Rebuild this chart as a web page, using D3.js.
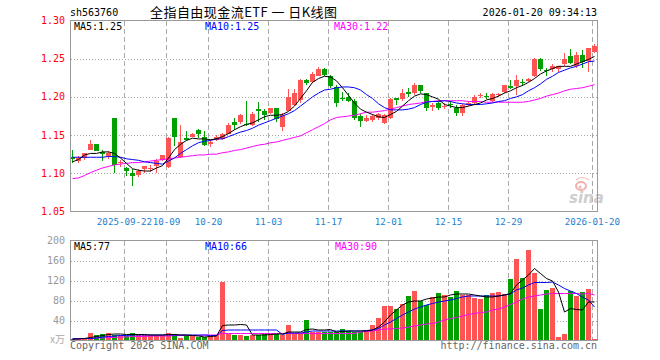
<!DOCTYPE html>
<html>
<head>
<meta charset="utf-8">
<script src="https://d3js.org/d3.v7.min.js"></script>
<style>
body { margin: 0px; background: #fff; }
text { font-family: "DejaVu Sans Mono", "Liberation Mono", monospace; font-size: 10px; }
.grid { stroke: #aaa; stroke-width: 1px; shape-rendering: crispEdges; }
.frame { fill: none; stroke: #999; stroke-width: 1px; shape-rendering: crispEdges; }
.ma { fill: none; stroke-width: 1px; }
</style>
</head>
<body>
<svg id="chart" width="660" height="360"></svg>
<script>
// daily K data, 2025-09-09 .. 2026-01-20 (88 trading days)
var opens = [1.121,1.116,1.120,1.131,1.138,1.128,1.122,1.173,1.114,1.107,
  1.100,1.098,1.105,1.106,1.110,1.117,1.108,1.172,1.121,1.146,
  1.148,1.157,1.147,1.138,1.143,1.145,1.152,1.167,1.167,1.165,
  1.163,1.184,1.181,1.179,1.185,1.161,1.181,1.189,1.196,1.222,
  1.219,1.228,1.237,1.228,1.213,1.199,1.200,1.195,1.175,1.169,
  1.170,1.173,1.166,1.173,1.198,1.197,1.206,1.205,1.215,1.205,
  1.187,1.192,1.187,1.191,1.186,1.179,1.189,1.192,1.201,1.201,
  1.194,1.203,1.206,1.214,1.214,1.219,1.221,1.227,1.250,1.235,
  1.237,1.237,1.243,1.253,1.240,1.255,1.247,1.259];
var highs = [1.131,1.122,1.127,1.143,1.138,1.130,1.129,1.173,1.117,1.108,
  1.105,1.105,1.110,1.111,1.119,1.124,1.148,1.172,1.163,1.155,
  1.153,1.158,1.155,1.143,1.150,1.153,1.166,1.172,1.177,1.195,
  1.180,1.193,1.184,1.186,1.186,1.179,1.210,1.210,1.224,1.224,
  1.232,1.239,1.238,1.229,1.215,1.207,1.205,1.197,1.177,1.176,
  1.178,1.179,1.177,1.198,1.199,1.210,1.211,1.218,1.215,1.205,
  1.192,1.196,1.192,1.194,1.189,1.191,1.194,1.203,1.205,1.205,
  1.205,1.205,1.216,1.222,1.229,1.224,1.225,1.251,1.251,1.238,
  1.243,1.241,1.258,1.263,1.259,1.262,1.264,1.269];
var lows = [1.114,1.113,1.118,1.130,1.129,1.116,1.119,1.101,1.108,1.097,
  1.084,1.095,1.101,1.102,1.100,1.116,1.107,1.136,1.120,1.142,
  1.147,1.146,1.136,1.134,1.142,1.144,1.151,1.157,1.164,1.162,
  1.162,1.167,1.170,1.177,1.167,1.156,1.181,1.188,1.192,1.216,
  1.218,1.227,1.227,1.211,1.187,1.194,1.193,1.170,1.161,1.167,
  1.167,1.170,1.165,1.171,1.190,1.195,1.200,1.203,1.205,1.182,
  1.181,1.183,1.184,1.186,1.175,1.175,1.188,1.191,1.199,1.197,
  1.193,1.200,1.205,1.210,1.203,1.214,1.219,1.226,1.234,1.228,
  1.233,1.233,1.241,1.243,1.238,1.238,1.232,1.258];
var closes = [1.119,1.120,1.126,1.138,1.129,1.125,1.127,1.111,1.115,1.103,
  1.097,1.103,1.109,1.107,1.116,1.124,1.146,1.148,1.141,1.143,
  1.152,1.152,1.137,1.141,1.148,1.151,1.163,1.163,1.176,1.164,
  1.178,1.181,1.176,1.185,1.171,1.176,1.200,1.205,1.222,1.218,
  1.230,1.237,1.229,1.214,1.192,1.198,1.194,1.172,1.168,1.173,
  1.175,1.177,1.176,1.197,1.196,1.205,1.204,1.215,1.208,1.185,
  1.190,1.185,1.188,1.190,1.179,1.190,1.192,1.200,1.202,1.200,
  1.204,1.204,1.215,1.211,1.222,1.218,1.224,1.250,1.237,1.234,
  1.241,1.241,1.249,1.245,1.255,1.246,1.264,1.267];

// price moving averages as drawn
var ma5 = [1.115,1.118,1.124,1.126,1.126,1.128,1.128,1.126,1.120,1.113,
  1.106,1.104,1.103,1.103,1.107,1.110,1.120,1.131,1.138,1.143,
  1.146,1.145,1.145,1.144,1.145,1.148,1.152,1.157,1.161,1.164,
  1.166,1.170,1.174,1.176,1.176,1.177,1.181,1.188,1.198,1.208,
  1.219,1.224,1.227,1.226,1.221,1.212,1.202,1.192,1.184,1.180,
  1.177,1.174,1.173,1.177,1.181,1.188,1.195,1.201,1.204,1.203,
  1.200,1.197,1.190,1.188,1.186,1.186,1.188,1.190,1.192,1.196,
  1.198,1.201,1.205,1.208,1.212,1.215,1.219,1.224,1.230,1.234,
  1.237,1.240,1.240,1.240,1.243,1.246,1.249,1.253];
var ma10 = [1.121,1.121,1.121,1.121,1.121,1.121,1.122,1.122,1.121,1.119,
  1.118,1.117,1.115,1.114,1.113,1.112,1.116,1.120,1.126,1.131,
  1.136,1.140,1.142,1.143,1.145,1.145,1.148,1.151,1.154,1.156,
  1.159,1.163,1.166,1.169,1.172,1.175,1.178,1.182,1.188,1.194,
  1.200,1.205,1.209,1.210,1.212,1.213,1.213,1.212,1.209,1.203,
  1.198,1.191,1.186,1.183,1.183,1.183,1.184,1.186,1.190,1.193,
  1.194,1.194,1.195,1.194,1.192,1.191,1.190,1.190,1.190,1.191,
  1.192,1.194,1.195,1.198,1.200,1.203,1.208,1.212,1.217,1.223,
  1.227,1.232,1.235,1.238,1.240,1.243,1.246,1.247];
var ma30 = [1.093,1.094,1.097,1.101,1.104,1.107,1.109,1.111,1.112,1.113,
  1.114,1.114,1.115,1.116,1.117,1.118,1.119,1.120,1.121,1.122,
  1.123,1.124,1.124,1.125,1.125,1.127,1.128,1.130,1.131,1.133,
  1.135,1.137,1.138,1.140,1.141,1.143,1.145,1.147,1.149,1.153,
  1.157,1.161,1.165,1.170,1.173,1.174,1.175,1.176,1.178,1.180,
  1.180,1.181,1.182,1.184,1.186,1.188,1.190,1.191,1.192,1.194,
  1.194,1.195,1.195,1.195,1.195,1.195,1.194,1.194,1.194,1.193,
  1.193,1.193,1.193,1.193,1.193,1.193,1.194,1.196,1.198,1.201,
  1.203,1.205,1.208,1.210,1.211,1.212,1.214,1.216];

// volume (x万) and its moving averages
var vols = [3,4,4,15,11,13,15,12,11,9,
  15,11,11,11,11,11,15,14,5,9,
  9,7,7,9,11,117,14,11,11,9,
  11,11,14,14,14,11,31,14,14,41,
  17,17,17,17,17,24,19,17,17,19,
  31,45,69,69,63,74,89,99,79,71,
  87,95,91,87,99,91,91,85,83,91,
  95,97,93,123,163,125,181,135,63,101,
  105,7,13,99,89,97,103,3];
var vma5 = [3,3,4,6,8,10,12,13,13,12,
  12,12,12,11,11,11,12,12,11,11,
  10,9,7,8,9,30,31,31,32,31,
  11,11,11,12,13,13,17,17,17,22,
  23,21,21,22,17,18,19,19,19,19,
  21,27,37,51,61,71,77,79,79,83,
  85,87,87,91,93,93,93,91,89,87,
  87,89,91,94,111,121,131,144,134,124,
  119,97,57,64,62,61,77,77];
var vma10 = [3,4,4,4,5,7,8,9,10,10,
  11,11,11,11,11,11,11,11,11,11,
  11,11,11,10,10,20,21,21,21,21,
  21,21,21,21,21,12,15,15,15,17,
  19,19,19,19,19,19,19,19,19,20,
  21,24,31,37,44,51,57,63,67,71,
  74,77,79,81,84,87,89,89,89,89,
  89,89,91,93,101,105,111,116,116,116,
  117,111,104,99,94,87,81,67];
var vma30 = [3,3,4,4,5,5,6,6,7,7,
  8,8,8,9,9,9,9,10,10,10,
  10,10,11,11,11,14,14,14,14,14,
  14,14,14,14,14,14,14,14,14,14,
  14,14,14,14,14,14,14,14,17,18,
  19,21,23,23,24,25,27,29,31,33,
  34,37,41,44,46,49,52,54,56,57,
  61,63,67,72,77,83,87,89,91,93,
  94,94,94,94,94,93,94,91];

var tickIdx = [9, 16, 23, 33, 43, 53, 63, 73, 87];
var tickLabels = ["2025-09-22", "10-09", "10-20", "11-03", "11-17", "12-01", "12-15", "12-29", "2026-01-20"];
var priceTicks = [1.30, 1.25, 1.20, 1.15, 1.10, 1.05];
var volTicks = [200, 160, 120, 80, 40];

var svg = d3.select("#chart");
var n = closes.length;
var left = 70.5, right = 597.5;
var RED = "#ff5454", GREEN = "#00a000";

var x = d3.scaleLinear().domain([0, n - 1]).range([72, 594]);
var y = d3.scaleLinear().domain([1.05, 1.30]).range([211.5, 20.5]);
var yv = d3.scaleLinear().domain([0, 200]).range([340.5, 240.5]);

svg.append("rect").attr("width", 660).attr("height", 360).attr("fill", "#fff");

var defs = svg.append("defs");
defs.append("clipPath").attr("id", "clipP").append("rect")
  .attr("x", left + 0.5).attr("y", 21).attr("width", right - left - 1).attr("height", 190);
defs.append("clipPath").attr("id", "clipV").append("rect")
  .attr("x", left + 0.5).attr("y", 241).attr("width", right - left - 1).attr("height", 99);

// ---------- grids ----------
svg.selectAll(".hgP").data(priceTicks.slice(1, -1)).enter().append("line")
  .attr("class", "grid").attr("stroke-dasharray", "1,2")
  .attr("x1", left).attr("x2", right)
  .attr("y1", function(d) { return Math.round(y(d)) + 0.5; })
  .attr("y2", function(d) { return Math.round(y(d)) + 0.5; });
svg.selectAll(".hgV").data(volTicks.slice(1)).enter().append("line")
  .attr("class", "grid").attr("stroke-dasharray", "1,2")
  .attr("x1", left).attr("x2", right)
  .attr("y1", function(d) { return Math.round(yv(d)) + 0.5; })
  .attr("y2", function(d) { return Math.round(yv(d)) + 0.5; });

[[y.range()[1], y.range()[0]], [yv.range()[1], yv.range()[0]]].forEach(function(r) {
  svg.append("g").selectAll("line").data(tickIdx).enter().append("line")
    .attr("class", "grid").attr("stroke-dasharray", "5,3")
    .attr("x1", function(d) { return x(d) - 1.5; })
    .attr("x2", function(d) { return x(d) - 1.5; })
    .attr("y1", r[0]).attr("y2", r[1]);
});

// ---------- candles ----------
var idx = d3.range(n);
function col(i) { return closes[i] >= opens[i] ? RED : GREEN; }

var gP = svg.append("g").attr("clip-path", "url(#clipP)");
gP.selectAll(".wick").data(idx).enter().append("line")
  .attr("shape-rendering", "crispEdges")
  .attr("x1", function(i) { return x(i) + 0.5; })
  .attr("x2", function(i) { return x(i) + 0.5; })
  .attr("y1", function(i) { return y(highs[i]); })
  .attr("y2", function(i) { return y(lows[i]); })
  .attr("stroke", col);
gP.selectAll(".body").data(idx).enter().append("rect")
  .attr("shape-rendering", "crispEdges")
  .attr("x", function(i) { return x(i) - 2; })
  .attr("width", 5)
  .attr("y", function(i) { return y(Math.max(opens[i], closes[i])); })
  .attr("height", function(i) { return Math.max(1, Math.abs(y(opens[i]) - y(closes[i]))); })
  .attr("fill", col);

function maLine(scale, arr) {
  return d3.line().x(function(i) { return x(i) + 0.5; }).y(function(i) { return scale(arr[i]); })(idx);
}
[[ma30, "#ff00ff"], [ma10, "#0000ff"], [ma5, "#000"]].forEach(function(m) {
  gP.append("path").attr("class", "ma").attr("d", maLine(y, m[0])).attr("stroke", m[1]);
});

// ---------- volume ----------
var gV = svg.append("g").attr("clip-path", "url(#clipV)");
gV.selectAll(".vbar").data(idx).enter().append("rect")
  .attr("shape-rendering", "crispEdges")
  .attr("x", function(i) { return x(i) - 2; })
  .attr("width", 5)
  .attr("y", function(i) { return yv(vols[i]); })
  .attr("height", function(i) { return yv(0) - yv(vols[i]); })
  .attr("fill", col);
[[vma30, "#ff00ff"], [vma10, "#0000ff"], [vma5, "#000"]].forEach(function(m) {
  gV.append("path").attr("class", "ma").attr("d", maLine(yv, m[0])).attr("stroke", m[1]);
});

// sina watermark
var wm = svg.append("g").attr("opacity", 0.9);
wm.append("ellipse").attr("cx", 581).attr("cy", 186).attr("rx", 5).attr("ry", 4)
  .attr("fill", "none").attr("stroke", "#f2a6a6").attr("stroke-width", 2);
wm.append("circle").attr("cx", 580).attr("cy", 187).attr("r", 1.5).attr("fill", "#e8b0b0");
wm.append("path").attr("d", "M576,180 Q582,175 589,180").attr("fill", "none")
  .attr("stroke", "#f2b0b0").attr("stroke-width", 1.2);
wm.append("text").attr("x", 569).attr("y", 203)
  .style("font-family", "DejaVu Sans").style("font-size", "15px")
  .style("font-weight", "bold").style("font-style", "italic")
  .attr("fill", "#c9c9c9").text("sina");

// frames
svg.append("rect").attr("class", "frame").attr("x", left).attr("y", 20.5).attr("width", right - left).attr("height", 191);
svg.append("rect").attr("class", "frame").attr("x", left).attr("y", 240.5).attr("width", right - left).attr("height", 100);

// ---------- axis labels ----------
svg.selectAll(".pl").data(priceTicks).enter().append("text")
  .attr("x", 65).attr("y", function(d) { return y(d); }).attr("dy", "0.35em")
  .attr("text-anchor", "end").attr("fill", "#f00")
  .text(function(d) { return d.toFixed(2); });
svg.selectAll(".vl").data(volTicks).enter().append("text")
  .attr("x", 65).attr("y", function(d) { return yv(d); }).attr("dy", "0.35em")
  .attr("text-anchor", "end").attr("fill", "#999")
  .text(function(d) { return d; });
svg.append("text").attr("x", 65).attr("y", yv(0)).attr("dy", "0.25em")
  .attr("text-anchor", "end").attr("fill", "#aaa")
  .style("font-family", "Noto Sans CJK SC").text("x万");

svg.selectAll(".dl").data(tickIdx).enter().append("text")
  .attr("x", function(d) { return x(d) - 1.5; }).attr("y", 225)
  .attr("text-anchor", "middle").attr("fill", "#1a7fd4")
  .style("font-size", "9.2px")
  .text(function(d, k) { return tickLabels[k]; });

// ---------- header / MA legends ----------
svg.append("text").attr("x", 70).attr("y", 16).attr("fill", "#000").text("sh563760");
svg.append("text").attr("x", 150).attr("y", 17).attr("fill", "#000")
  .attr("textLength", 187).attr("lengthAdjust", "spacing")
  .style("font-family", "Noto Sans CJK SC").style("font-size", "13px")
  .text("全指自由现金流ETF 一 日K线图");
svg.append("text").attr("x", 597).attr("y", 16).attr("text-anchor", "end").attr("fill", "#000")
  .text("2026-01-20 09:34:13");

var last = n - 1;
svg.append("text").attr("x", 74).attr("y", 30).attr("fill", "#000").text("MA5:" + ma5[last].toFixed(2));
svg.append("text").attr("x", 205).attr("y", 30).attr("fill", "#0000ff").text("MA10:" + ma10[last].toFixed(2));
svg.append("text").attr("x", 334).attr("y", 30).attr("fill", "#ff00ff").text("MA30:" + ma30[last].toFixed(2));

svg.append("text").attr("x", 74).attr("y", 250).attr("fill", "#000").text("MA5:77");
svg.append("text").attr("x", 205).attr("y", 250).attr("fill", "#0000ff").text("MA10:66");
svg.append("text").attr("x", 335).attr("y", 250).attr("fill", "#ff00ff").text("MA30:90");

svg.append("text").attr("x", 70).attr("y", 349).attr("fill", "#666").text("Copyright 2026 SINA.COM");
svg.append("text").attr("x", 597).attr("y", 349).attr("text-anchor", "end").attr("fill", "#666")
  .text("http://finance.sina.com.cn");
</script>
</body>
</html>
